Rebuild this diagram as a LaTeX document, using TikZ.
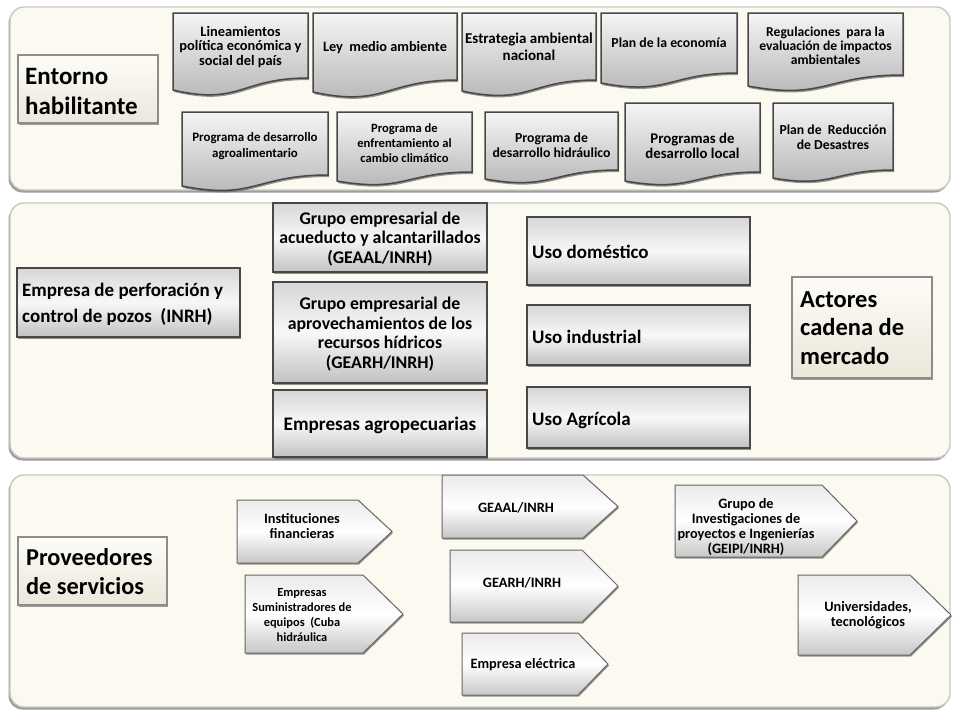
\documentclass[tikz,border=0pt]{standalone}
\usepackage{fontspec}
\setmainfont{Carlito}
\usetikzlibrary{shadows}
\definecolor{panelfill}{RGB}{252,250,240}
\definecolor{panelline}{RGB}{200,200,194}
\definecolor{boxline}{RGB}{72,72,72}
\definecolor{labeltop}{RGB}{253,252,247}
\definecolor{labelbot}{RGB}{234,231,218}
\tikzset{
  panel/.style={draw=panelline, line width=1.4pt, fill=panelfill, rounded corners=14pt,
    drop shadow={shadow xshift=-1.5pt, shadow yshift=-2.5pt, fill=black!55, opacity=0.7}},
  labelbox/.style={draw=black!45, line width=1.2pt, top color=labeltop, bottom color=labelbot,
    drop shadow={shadow xshift=1pt, shadow yshift=-1.5pt, fill=black!55, opacity=0.7}},
  graybox/.style={draw=boxline, line width=1.5pt, top color=black!16, bottom color=black!24, middle color=black!3,
    drop shadow={shadow xshift=1pt, shadow yshift=-1.5pt, fill=black!60, opacity=0.7}},
  docshp/.style={draw=boxline, line width=1.5pt, top color=black!4, bottom color=black!30,
    drop shadow={shadow xshift=1pt, shadow yshift=-2pt, fill=black!60, opacity=0.7}},
  arrshp/.style={draw=black!60, line width=1pt, top color=black!8, bottom color=black!22, middle color=white,
    drop shadow={shadow xshift=1pt, shadow yshift=-1.5pt, fill=black!60, opacity=0.7}},
  bigtxt/.style={font=\fontsize{25}{30}\selectfont\bfseries, align=left, anchor=west, inner sep=0pt},
  doctxt/.style={align=center, inner sep=0pt},
  midtxt/.style={font=\fontsize{17.8}{19.8}\selectfont\bfseries, align=center, inner sep=0pt},
  usetxt/.style={font=\fontsize{19}{24}\selectfont\bfseries, align=left, anchor=west, inner sep=0pt},
  arrtxt/.style={font=\fontsize{14.3}{15}\selectfont\bfseries, align=center, inner sep=0pt},
}
% name, x1, x2, ytop, yRight, yLeft, ytext, {size}{skip}, text
\newcommand\docbox[9]{%
  \path[docshp] (#2,#4) -- (#3,#4) -- (#3,#5)
    .. controls ({(#2+#3)/2},#5) and ({(#2+#3)/2},{#5+2.31*(#6-#5)}) .. (#2,#6) -- cycle;
  \node[doctxt, font=\fontsize#8\selectfont\bfseries] (#1) at ({(#2+#3)/2},#7) {#9};
}
% name, x1, xshaft, xtip, ytop, ybot, xtext, ytext, text
\newcommand\arrbox[9]{%
  \path[arrshp] (#2,#5) -- (#3,#5) -- (#4,{(#5+#6)/2}) -- (#3,#6) -- (#2,#6) -- cycle;
  \node[arrtxt] (#1) at (#7,#8) {#9};
}
\begin{document}
\begin{tikzpicture}[x=1pt,y=-1pt]
\useasboundingbox (0,0) rectangle (953,710);
\fill[white] (0,0) rectangle (953,710);

% panels
\path[panel] (10,7) rectangle (950,190);
\path[panel] (10,203) rectangle (950,458);
\path[panel] (10,475) rectangle (950,707);

% ---- Entorno habilitante
\path[labelbox] (18,55) rectangle (158,123);
\node[bigtxt] (entorno) at (25,91) {Entorno\\habilitante};

\docbox{d1}{173}{308}{13}{78}{90}{47}{{14.4}{14.8}}{Lineamientos\\política económica y\\social del país}
\docbox{d2}{313}{457}{13}{80}{92}{48}{{14.3}{16}}{Ley\ \ medio ambiente}
\docbox{d3}{462}{596}{13}{80}{91}{47}{{15}{17}}{Estrategia ambiental\\nacional}
\docbox{d4}{601}{737}{13}{73}{83}{43}{{13.8}{15}}{Plan de la economía}
\docbox{d5}{748}{903}{13}{75}{86}{46}{{13.6}{14.2}}{Regulaciones\ \ para la\\evaluación de impactos\\ambientales}
\docbox{d6}{182}{328}{112}{175}{186}{146}{{12.9}{16.5}}{Programa de desarrollo\\agroalimentario}
\docbox{d7}{337}{472}{112}{172}{181}{143}{{12.6}{15}}{Programa de\\enfrentamiento al\\cambio climático}
\docbox{d8}{485}{618}{112}{170}{179}{145}{{13.8}{15.5}}{Programa de\\desarrollo hidráulico}
\docbox{d9}{625}{760}{103}{172}{181}{146}{{14.8}{15.5}}{Programas de\\desarrollo local}
\docbox{d10}{773}{893}{103}{170}{178}{137}{{13.7}{15}}{Plan de\ \ Reducción\\de Desastres}

% ---- middle panel
\path[graybox] (17,268) rectangle (240,337);
\node[font=\fontsize{19}{26}\selectfont\bfseries, align=left, anchor=west, inner sep=0pt] (perf) at (22,304) {Empresa de perforación y\\control de pozos\ \ (INRH)};

\path[graybox] (273,203) rectangle (487,272);
\node[midtxt] (g1) at (380,239) {Grupo empresarial de\\acueducto y alcantarillados\\(GEAAL/INRH)};
\path[graybox] (273,282) rectangle (487,383);
\node[midtxt] (g2) at (380,334) {Grupo empresarial de\\aprovechamientos de los\\recursos hídricos\\(GEARH/INRH)};
\path[graybox] (273,390) rectangle (487,457);
\node[midtxt, font=\fontsize{19.2}{21}\selectfont\bfseries] (g3) at (380,425) {Empresas agropecuarias};

\path[graybox] (527,217) rectangle (750,285);
\node[usetxt] (u1) at (532,252) {Uso doméstico};
\path[graybox] (527,305) rectangle (750,365);
\node[usetxt] (u2) at (532,337) {Uso industrial};
\path[graybox] (527,387) rectangle (750,448);
\node[usetxt] (u3) at (532,420) {Uso Agrícola};

\path[labelbox] (792,277) rectangle (932,378);
\node[bigtxt, font=\fontsize{24.5}{28.5}\selectfont\bfseries] (actores) at (800,328) {Actores\\cadena de\\mercado};

% ---- bottom panel
\path[labelbox] (18,537) rectangle (167,605);
\node[bigtxt, font=\fontsize{24.3}{29}\selectfont\bfseries] (prov) at (26,572) {Proveedores\\de servicios};

\arrbox{a1}{237}{358}{392}{500}{563}{302}{526}{Instituciones\\financieras}
\path[arrshp] (245,575) -- (363,575) -- (403,614) -- (363,653) -- (245,653) -- cycle;
\node[arrtxt, font=\fontsize{12.4}{15}\selectfont\bfseries] (a2) at (302,615) {Empresas\\Suministradores de\\equipos\ \ (Cuba\\hidráulica};
\arrbox{a3}{442}{583}{618}{475}{538}{516}{508}{GEAAL/INRH}
\arrbox{a4}{450}{582}{618}{550}{622}{522}{583}{GEARH/INRH}
\arrbox{a5}{462}{578}{608}{633}{695}{523}{665}{Empresa eléctrica}
\arrbox{a6}{675}{822}{857}{485}{557}{746}{527}{Grupo de\\Investigaciones de\\proyectos e Ingenierías\\(GEIPI/INRH)}
\arrbox{a7}{798}{910}{951}{575}{655}{868}{615}{Universidades,\\tecnológicos}
\end{tikzpicture}
\end{document}
